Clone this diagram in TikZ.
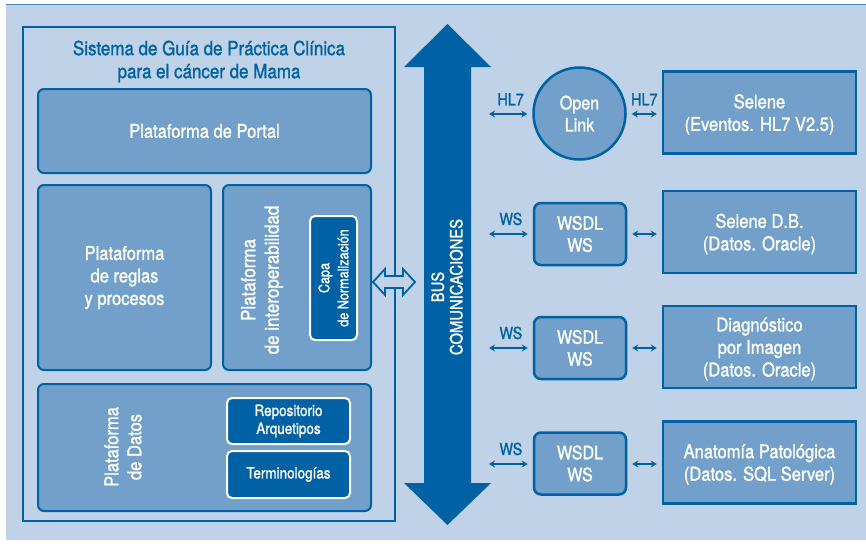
\documentclass[tikz,border=0pt]{standalone}
\usepackage{fontspec}
\setmainfont{TeX Gyre Heros}[FakeStretch=0.87, FakeBold=1.2]
\usetikzlibrary{arrows.meta}
\definecolor{gpcdark}{RGB}{0,98,165}
\definecolor{gpcmid}{RGB}{114,160,202}
\definecolor{gpcback}{RGB}{192,210,231}
\definecolor{gpcline}{RGB}{64,134,192}
\newcommand{\fsz}[2]{\fontsize{#1}{#2}\selectfont}

\begin{document}
\begin{tikzpicture}[x=1pt, y=-1pt, >={Stealth[length=6pt,width=7pt]},
  plat/.style={draw=gpcdark, line width=2pt, fill=gpcmid, rounded corners=6pt,
    text=white, align=center, font=\fsz{19}{22.5}, inner sep=0pt},
  inbox/.style={draw=white, line width=2pt, fill=gpcdark, rounded corners=5pt,
    text=white, align=center, font=\fsz{15.5}{18}, inner sep=0pt},
  srv/.style={draw=gpcdark, line width=2.5pt, fill=gpcmid, text=white, align=center,
    font=\fsz{19}{22.5}, minimum width=193pt, minimum height=82pt, inner sep=0pt,
    text depth=0pt},
  wsdl/.style={draw=gpcdark, line width=2.5pt, fill=gpcmid, rounded corners=7pt,
    text=white, align=center, font=\fsz{18.5}{22}, minimum width=92pt,
    minimum height=62pt, inner sep=0pt},
  vlabel/.style={rotate=90, text=white, align=center, inner sep=0pt},
  proto/.style={text=gpcdark, font=\fsz{16.5}{19}, inner sep=0pt, above=8pt},
  link/.style={<->, gpcdark, line width=1.5pt}]
  % --- background ---
  \useasboundingbox (0,0) rectangle (866,543);
  \fill[gpcback] (6,5) rectangle (866,540);
  \draw[gpcline, line width=1.5pt] (6,4.5) -- (866,4.5);
  % --- Sistema de Guia ---
  \node[draw=gpcdark, line width=2.5pt, minimum width=372pt, minimum height=494pt] (sys) at (209,274) {};
  \node[text=gpcdark, align=center, font=\fsz{19.5}{23}, inner sep=0pt] (title) at (209,61.5)
    {Sistema de Guía de Práctica Clínica\\para el cáncer de Mama};
  \node[plat, minimum width=333pt, minimum height=84pt] (portal) at (204.5,131) {Plataforma de Portal};
  \node[plat, minimum width=173pt, minimum height=185pt] (reglas) at (124.5,277.5)
    {Plataforma\\de reglas\\y procesos};
  \node[plat, minimum width=148pt, minimum height=185pt] (interop) at (297,277.5) {};
  \node[vlabel, font=\fsz{19.5}{23.5}] (interoptxt) at (262,280) {Plataforma\\de interoperabilidad};
  \node[inbox, minimum width=47pt, minimum height=124pt] (capa) at (333.5,278) {};
  \node[vlabel, font=\fsz{14.5}{19}] (capatxt) at (capa) {Capa\\de Normalización};
  \node[plat, minimum width=333pt, minimum height=127pt] (datos) at (204.5,447.5) {};
  \node[vlabel, font=\fsz{19}{23}] (datostxt) at (123,447) {Plataforma\\de Datos};
  \node[inbox, minimum width=123pt, minimum height=46pt] (repo) at (288.5,421) {Repositorio\\Arquetipos};
  \node[inbox, minimum width=123pt, minimum height=47pt] (termi) at (288.5,474.5) {Terminologías};
  % --- Bus ---
  \fill[gpcdark] (447.5,24) -- (491,67) -- (471,67) -- (471,483) -- (491,483) -- (447.5,525)
    -- (404,483) -- (424,483) -- (424,67) -- (404,67) -- cycle;
  \node[vlabel, font=\fsz{17}{18.5}] (bus) at (447,287) {BUS\\COMUNICACIONES};
  \draw[gpcdark, line width=1.8pt, fill=gpcback, line join=miter] (373,282) -- (385,269) -- (385,276)
    -- (403,276) -- (403,269) -- (415,282) -- (403,295) -- (403,288) -- (385,288) -- (385,295) -- cycle;
  % --- Servicios ---
  \node[circle, draw=gpcdark, line width=2.5pt, fill=gpcmid, text=white, align=center,
    font=\fsz{18.5}{22}, minimum size=92pt, inner sep=0pt] (openlink) at (579.5,113.5) {Open\\Link};
  \node[srv] (selene) at (759.5,112.5) {Selene\\(Eventos. HL7 V2.5)};
  \node[wsdl] (ws1) at (580,234) {WSDL\\WS};
  \node[srv] (selenedb) at (759.5,232) {Selene D.B.\\(Datos. Oracle)};
  \node[wsdl] (ws2) at (580,348) {WSDL\\WS};
  \node[srv] (diag) at (759.5,347) {Diagnóstico\\por Imagen\\(Datos. Oracle)};
  \node[wsdl] (ws3) at (580,463.5) {WSDL\\WS};
  \node[srv] (anat) at (759.5,462.5) {Anatomía Patológica\\(Datos. SQL Server)};
  % --- Conexiones ---
  \foreach \name/\y in {b1/114, b2/234, b3/348, b4/464}
    \coordinate (\name) at (489,\y);
  \draw[link, shorten >=5pt] (b1) -- node[proto] {HL7} (openlink.west |- b1);
  \draw[link, shorten <=5pt, shorten >=5pt] (openlink.east |- b1) -- node[proto] {HL7} (selene.west |- b1);
  \foreach \b/\w/\s in {b2/ws1/selenedb, b3/ws2/diag, b4/ws3/anat} {
    \draw[link, shorten >=5pt] (\b) -- node[proto] {WS} (\w.west |- \b);
    \draw[link, shorten <=5pt, shorten >=5pt] (\w.east |- \b) -- (\s.west |- \b);
  }
\end{tikzpicture}
\end{document}
